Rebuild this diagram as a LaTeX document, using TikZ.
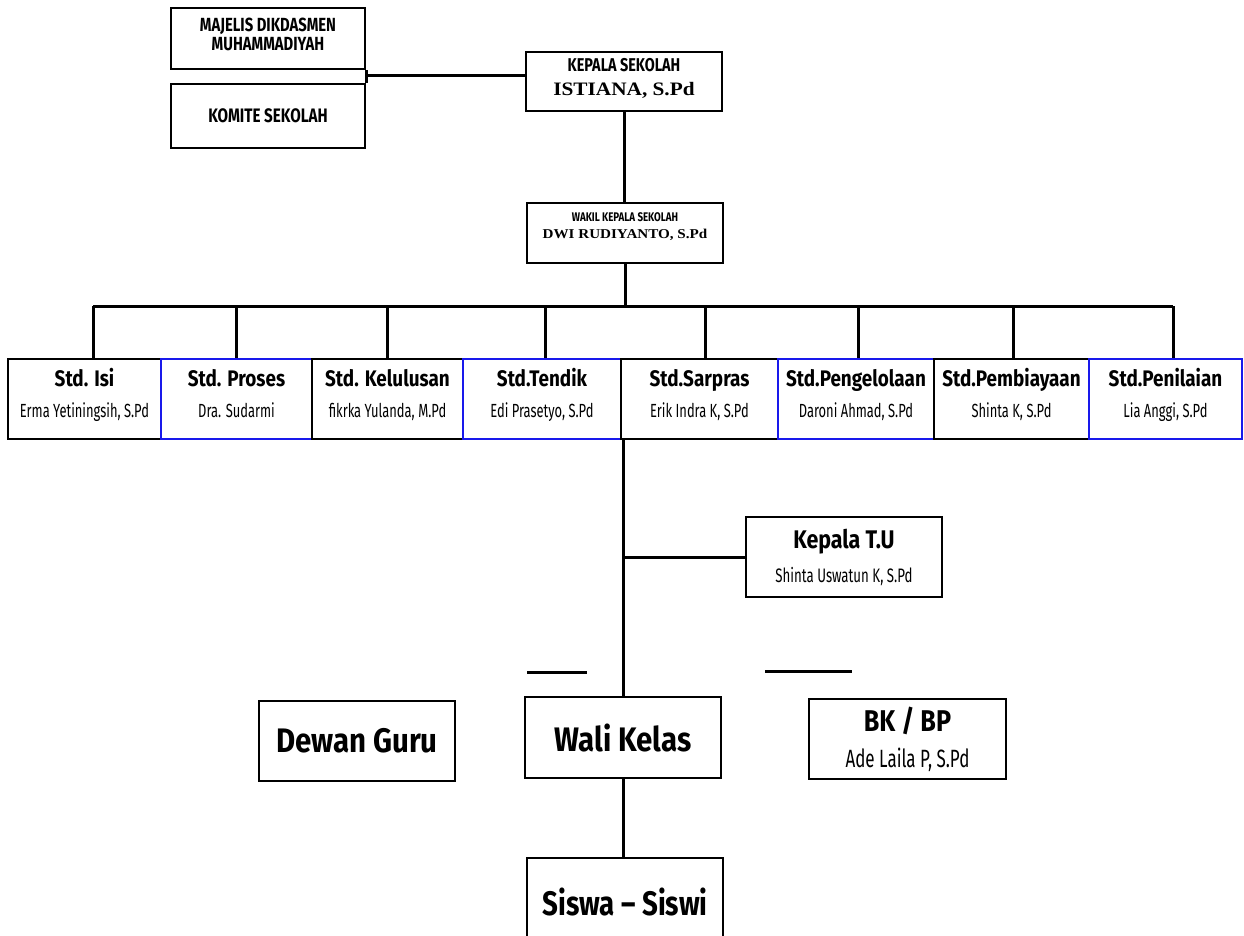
\documentclass[tikz,border=0pt]{standalone}
\usepackage{fontspec}
\usepackage{xcolor}
\usepackage{tikz}
\setmainfont{Fira Sans}
\newfontfamily\headfont{Fira Sans}[FakeStretch=0.84]
\newfontfamily\namefont{Fira Sans}[FakeStretch=0.68]
\newfontfamily\bigfont{Fira Sans}[FakeStretch=0.74]
\newfontfamily\capfont{Fira Sans}[FakeStretch=0.78]
\newfontfamily\serifbold{Liberation Serif}[FakeStretch=1.12]
\definecolor{stdblue}{RGB}{25,25,235}
\newcommand{\lowpad}[1]{\rule[-#1]{0pt}{#1}}
\newcommand{\stdtitle}[1]{{\headfont\bfseries\fontsize{22.5}{31}\selectfont #1}}
\newcommand{\stdname}[1]{{\namefont\fontsize{19}{31}\selectfont #1\lowpad{12pt}}}

\begin{document}
\begin{tikzpicture}[x=1pt,y=-1pt,
  box/.style 2 args={draw=black,line width=2.6pt,fill=white,inner sep=0pt,
    align=center,minimum width=#1pt,minimum height=#2pt},
  bluebox/.style 2 args={box={#1}{#2},draw=stdblue,line width=2.2pt},
  stdrow/.style={font=\fontsize{20}{31}\selectfont},
  link/.style={black,line width=3pt}]
\useasboundingbox (0,0) rectangle (1244,936);
\clip (0,0) rectangle (1244,936);

\node [box={194}{61},font=\capfont\bfseries\fontsize{19}{19}\selectfont] (majelis) at (268,38.5)
  {MAJELIS DIKDASMEN\\MUHAMMADIYAH\lowpad{8pt}};
\node [box={194}{64},font=\capfont\bfseries\fontsize{19.5}{22}\selectfont] (komite) at (268,116)
  {KOMITE SEKOLAH};
\node [box={196}{59},font=\fontsize{18}{24}\selectfont] (kepala) at (624,81.5)
  {{\capfont\bfseries\fontsize{18.5}{24}\selectfont KEPALA SEKOLAH}\\
   {\serifbold\bfseries\fontsize{19}{24}\selectfont ISTIANA, S.Pd\lowpad{10pt}}};
\node [box={196}{60},font=\fontsize{13}{17}\selectfont] (wakil) at (625,233)
  {{\capfont\bfseries\fontsize{12.5}{17}\selectfont WAKIL KEPALA SEKOLAH}\\
   {\serifbold\bfseries\fontsize{13.5}{17}\selectfont DWI RUDIYANTO, S.Pd\lowpad{15pt}}};

\node [box={153}{80},stdrow] (isi) at (84.5,399)
  {\stdtitle{Std. Isi}\\\stdname{Erma Yetiningsih, S.Pd}};
\node [bluebox={151}{80},stdrow] (proses) at (236.5,399)
  {\stdtitle{Std. Proses}\\\stdname{Dra. Sudarmi}};
\node [box={151}{80},stdrow] (kelulusan) at (387.5,399)
  {\stdtitle{Std. Kelulusan}\\\stdname{fikrka Yulanda, M.Pd}};
\node [bluebox={158}{80},stdrow] (tendik) at (542,399)
  {\stdtitle{Std.Tendik}\\\stdname{Edi Prasetyo, S.Pd}};
\node [box={157}{80},stdrow] (sarpras) at (699.5,399)
  {\stdtitle{Std.Sarpras}\\\stdname{Erik Indra K, S.Pd}};
\node [bluebox={156}{80},stdrow] (pengelolaan) at (856,399)
  {\stdtitle{Std.Pengelolaan}\\\stdname{Daroni Ahmad, S.Pd}};
\node [box={155}{80},stdrow] (pembiayaan) at (1011.5,399)
  {\stdtitle{Std.Pembiayaan}\\\stdname{Shinta K, S.Pd}};
\node [bluebox={153}{80},stdrow] (penilaian) at (1165.5,399)
  {\stdtitle{Std.Penilaian}\\\stdname{Lia Anggi, S.Pd}};

\node [box={196}{80},font=\fontsize{24}{34}\selectfont] (tu) at (844,557)
  {{\headfont\bfseries\fontsize{25.5}{34}\selectfont Kepala T.U}\\
   {\namefont\fontsize{19.5}{34}\selectfont Shinta Uswatun K, S.Pd}};
\node [box={196}{80},font=\bigfont\bfseries\fontsize{34}{40}\selectfont] (dewan) at (357,741)
  {\scalebox{1.17}[1]{Dewan Guru}};
\node [box={196}{81},font=\bigfont\bfseries\fontsize{34}{40}\selectfont] (wali) at (623,737.5)
  {\scalebox{1.17}[1]{Wali Kelas}};
\node [box={197}{80},font=\fontsize{26}{36}\selectfont] (bkbp) at (907.5,739)
  {{\headfont\bfseries\fontsize{30}{36}\selectfont BK / BP}\\
   {\namefont\fontsize{25}{36}\selectfont Ade Laila P, S.Pd}};
\node [box={196}{88},font=\bigfont\bfseries\fontsize{34}{40}\selectfont] (siswa) at (625,902)
  {\scalebox{1.1}[1]{Siswa – Siswi}};

\coordinate (mk) at (365,76);
\coordinate (busL) at (93,306);
\coordinate (busR) at (1173,306);
\coordinate (dashAa) at (527,672);
\coordinate (dashAb) at (587,672);
\coordinate (dashBa) at (765,671);
\coordinate (dashBb) at (852,671);

\draw [link] (majelis.south east) -- (komite.north east);
\draw [link] (mk) -- (mk -| kepala.west);
\draw [link] (kepala.south) -- (kepala.south |- wakil.north);
\draw [link] (wakil.south) -- (wakil.south |- busL);
\draw [link] (busL) -- (busR);
\foreach \n/\dx in {isi/8.5,proses/0,kelulusan/0,tendik/3,sarpras/5.5,pengelolaan/2,pembiayaan/1.5,penilaian/7.5}
  \draw [link] ([xshift=\dx pt]\n.north |- busL) -- ([xshift=\dx pt]\n.north);
\draw [link] (wali.north |- tendik.south) -- (wali.north);
\draw [link] (tu.west -| wali.north) -- (tu.west);
\draw [link] (wali.south) -- (wali.south |- siswa.north);
\draw [link] (dashAa) -- (dashAb);
\draw [link] (dashBa) -- (dashBb);
\end{tikzpicture}
\end{document}
